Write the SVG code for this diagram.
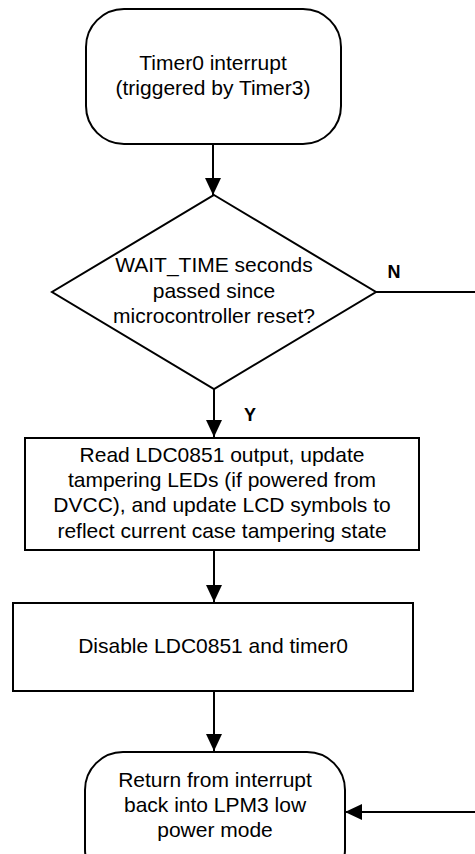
<svg xmlns="http://www.w3.org/2000/svg" width="475" height="854" viewBox="0 0 475 854">
<defs>
<style>
.shape{fill:#fff;stroke:#000;stroke-width:2}
.t{font-family:"Liberation Sans",Arial,sans-serif;font-size:21px;fill:#000;text-anchor:middle}
.lbl{font-family:"Liberation Sans",Arial,sans-serif;font-size:18px;font-weight:bold;fill:#000;text-anchor:middle}
.conn{fill:none;stroke:#000;stroke-width:2}
</style>
<marker id="arr" markerWidth="18" markerHeight="18" refX="17" refY="8" orient="auto" markerUnits="userSpaceOnUse" viewBox="0 0 18 16">
<path d="M0,0 L17,8 L0,16 Z" fill="#000"/>
</marker>
</defs>
<rect width="475" height="854" fill="#fff"/>
<g id="connectors">
<line class="conn" x1="213" y1="144" x2="213" y2="195" marker-end="url(#arr)"/>
<line class="conn" x1="214" y1="389" x2="214" y2="437" marker-end="url(#arr)"/>
<line class="conn" x1="376" y1="292" x2="475" y2="292"/>
<line class="conn" x1="214" y1="550" x2="214" y2="602" marker-end="url(#arr)"/>
<line class="conn" x1="214" y1="691" x2="214" y2="751" marker-end="url(#arr)"/>
<line class="conn" x1="475" y1="812" x2="345" y2="812" marker-end="url(#arr)"/>
<text class="lbl" x="394" y="278">N</text>
<text class="lbl" x="250" y="421">Y</text>
</g>
<g id="start">
<rect class="shape" x="86" y="9" width="255" height="135" rx="38" ry="38"/>
<text class="t" x="213" y="70">Timer0 interrupt</text>
<text class="t" x="213" y="95">(triggered by Timer3)</text>
</g>
<g id="decision">
<polygon class="shape" points="214,195 376,292 214,389 52,292"/>
<text class="t" x="214" y="272">WAIT_TIME seconds</text>
<text class="t" x="214" y="298">passed since</text>
<text class="t" x="214" y="323">microcontroller reset?</text>
</g>
<g id="read">
<rect class="shape" x="25" y="438" width="394" height="112"/>
<text class="t" x="222" y="462">Read LDC0851 output, update</text>
<text class="t" x="222" y="487">tampering LEDs (if powered from</text>
<text class="t" x="222" y="512">DVCC), and update LCD symbols to</text>
<text class="t" x="222" y="538">reflect current case tampering state</text>
</g>
<g id="disable">
<rect class="shape" x="13" y="603" width="400" height="88"/>
<text class="t" x="213" y="653">Disable LDC0851 and timer0</text>
</g>
<g id="return">
<rect class="shape" x="85" y="752" width="260" height="135" rx="38" ry="38"/>
<text class="t" x="215" y="787">Return from interrupt</text>
<text class="t" x="215" y="812">back into LPM3 low</text>
<text class="t" x="215" y="837">power mode</text>
</g>
</svg>
